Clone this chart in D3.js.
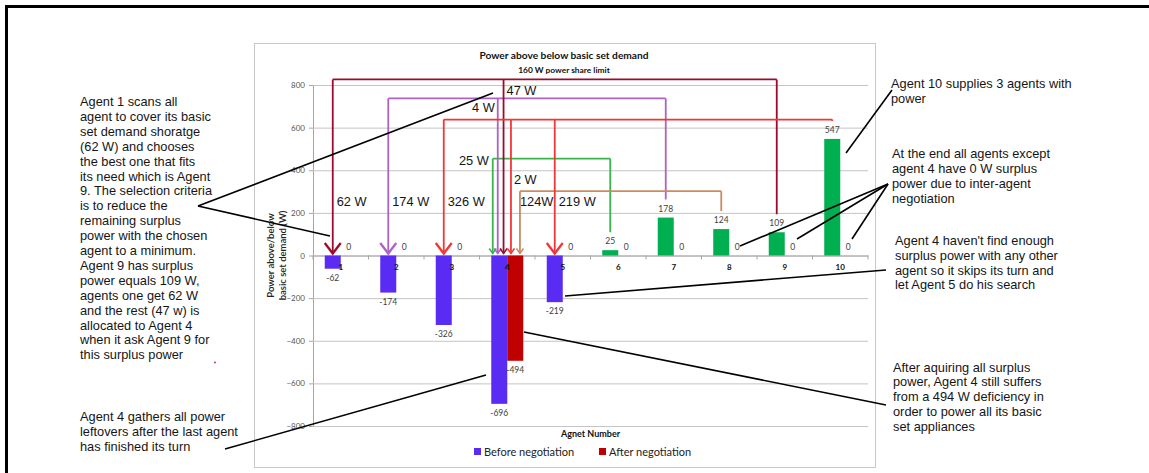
<!DOCTYPE html>
<html>
<head>
<meta charset="utf-8">
<script src="https://cdn.jsdelivr.net/npm/d3@7"></script>
<style>
  body { margin: 0; background: #fff; }
  svg { display: block; }
  .note { font-family: "Liberation Sans", Arial, sans-serif; font-size: 12.8px; fill: #151515; }
  .chart-text { font-family: Lato, "Open Sans", sans-serif; }
</style>
</head>
<body>
<svg id="chart" width="1149" height="473"></svg>
<script>
// chart values
const agents = [1, 2, 3, 4, 5, 6, 7, 8, 9, 10];
const beforeValues = [-62, -174, -326, -696, -219, 25, 178, 124, 109, 547];
const afterValues = [0, 0, 0, -494, 0, 0, 0, 0, 0, 0];
const yTicks = [-800, -600, -400, -200, 0, 200, 400, 600, 800];
const seriesNames = ["Before negotiation", "After negotiation"];

// who gave power to whom
const transferFrom = [9, 7, 10, 10, 6, 7, 9, 10, 8];
const transferTo = [1, 2, 3, 5, 4, 4, 4, 4, 4];
const transferLabels = ["62 W", "174 W", "326 W", "219 W", "25 W", "4 W", "47 W", "2 W", "124W"];

// annotation layout (not data)
const supplierLevel = { 9: 826, 7: 737, 10: 638, 6: 455, 8: 302 };
const supplierColor = { 9: "#9b0c2c", 7: "#b061c6", 10: "#f23636", 6: "#3bb54b", 8: "#c98b62" };
const agent4Offset = { 6: -14.5, 7: -9.5, 9: -3.7, 10: 3.7, 8: 12.7 };

const plot = { left: 313, right: 868, top: 85, bottom: 426 };
const svg = d3.select("#chart");

// outer frame
svg.append("path")
  .attr("d", "M6.5,473 V6.5 H1149")
  .attr("fill", "none")
  .attr("stroke", "#000")
  .attr("stroke-width", 3);

// chart box
svg.append("rect")
  .attr("x", 254.5).attr("y", 43.5)
  .attr("width", 621).attr("height", 424)
  .attr("fill", "#fff")
  .attr("stroke", "#c8c8c8");

const x = d3.scaleBand().domain(agents).range([plot.left, plot.right]);
const x1 = d3.scaleBand().domain(seriesNames)
  .range([x.bandwidth() / 2 - 16, x.bandwidth() / 2 + 16]);
const y = d3.scaleLinear().domain([-800, 800]).range([plot.bottom, plot.top]);

// gridlines + y axis
svg.append("g")
  .attr("transform", `translate(${plot.left},0)`)
  .call(d3.axisLeft(y).tickValues(yTicks).tickSize(-(plot.right - plot.left)).tickPadding(8))
  .call(g => g.select(".domain").attr("stroke", "#a6a6a6"))
  .call(g => g.selectAll(".tick line").attr("stroke", "#c4c4c4"))
  .call(g => g.selectAll(".tick text")
    .attr("class", "chart-text")
    .attr("font-size", 8)
    .attr("fill", "#555"));

// y axis small ticks
svg.append("g").selectAll("line")
  .data(yTicks)
  .join("line")
  .attr("x1", plot.left - 4).attr("x2", plot.left)
  .attr("y1", d => y(d) + 0.5).attr("y2", d => y(d) + 0.5)
  .attr("stroke", "#a6a6a6");

// category axis at zero
svg.append("g")
  .attr("transform", `translate(0,${y(0)})`)
  .call(d3.axisBottom(x).tickSize(0).tickFormat(""))
  .call(g => g.select(".domain").attr("stroke", "#a6a6a6"));
svg.append("g").selectAll("line")
  .data(d3.range(agents.length + 1))
  .join("line")
  .attr("x1", i => plot.left + i * x.bandwidth())
  .attr("x2", i => plot.left + i * x.bandwidth())
  .attr("y1", y(0)).attr("y2", y(0) + 4)
  .attr("stroke", "#a6a6a6");

// bars
const rows = agents.map((a, i) => ({ agent: a, before: beforeValues[i], after: afterValues[i] }));
const barColor = v => v >= 0 ? "#00b050" : "#5a2bf2";

svg.append("g").selectAll("rect")
  .data(rows)
  .join("rect")
  .attr("x", d => x(d.agent) + x1(seriesNames[0]))
  .attr("width", x1.bandwidth())
  .attr("y", d => y(Math.max(0, d.before)))
  .attr("height", d => Math.abs(y(d.before) - y(0)))
  .attr("fill", d => barColor(d.before));

svg.append("g").selectAll("rect")
  .data(rows.filter(d => d.after !== 0))
  .join("rect")
  .attr("x", d => x(d.agent) + x1(seriesNames[1]))
  .attr("width", x1.bandwidth())
  .attr("y", y(0))
  .attr("height", d => y(d.after) - y(0))
  .attr("fill", "#c00000");

// data labels
const labelFor = (g, key, series) => g.selectAll("text")
  .data(rows)
  .join("text")
  .attr("class", "chart-text")
  .attr("font-size", 8.5)
  .attr("fill", "#404040")
  .attr("text-anchor", "middle")
  .attr("x", d => x(d.agent) + x1(series) + x1.bandwidth() / 2)
  .attr("y", d => d[key] >= 0 ? y(d[key]) - 6 : y(d[key]) + 12)
  .text(d => d[key]);
labelFor(svg.append("g"), "before", seriesNames[0]);
labelFor(svg.append("g"), "after", seriesNames[1]);

// category labels
svg.append("g").selectAll("text")
  .data(agents)
  .join("text")
  .attr("class", "chart-text")
  .attr("font-size", 8)
  .attr("font-weight", "bold")
  .attr("fill", "#111")
  .attr("text-anchor", "middle")
  .attr("x", d => x(d) + x.bandwidth() / 2)
  .attr("y", y(0) + 14)
  .text(d => d);

// titles
const center = (plot.left + plot.right) / 2;
svg.append("text").attr("class", "chart-text")
  .attr("x", 564).attr("y", 59)
  .attr("text-anchor", "middle").attr("font-size", 10.2).attr("font-weight", "bold").attr("fill", "#111")
  .text("Power above below basic set demand");
svg.append("text").attr("class", "chart-text")
  .attr("x", 564).attr("y", 72.5)
  .attr("text-anchor", "middle").attr("font-size", 8.4).attr("font-weight", "bold").attr("fill", "#111")
  .text("160 W power share limit");
svg.append("text").attr("class", "chart-text")
  .attr("x", center).attr("y", 436.5)
  .attr("text-anchor", "middle").attr("font-size", 9).attr("font-weight", "bold").attr("fill", "#111")
  .text("Agnet Number");

const yTitle = svg.append("text").attr("class", "chart-text")
  .attr("transform", `translate(0,${y(0)}) rotate(-90)`)
  .attr("text-anchor", "middle").attr("font-size", 9.5).attr("font-weight", 600).attr("fill", "#222");
yTitle.append("tspan").attr("x", 0).attr("y", 274).text("Power above/below");
yTitle.append("tspan").attr("x", 0).attr("y", 286).text("basic set demand (W)");

// legend
const legend = svg.append("g").attr("transform", "translate(474,452)");
seriesNames.forEach((name, i) => {
  const lx = i === 0 ? 0 : 125;
  legend.append("rect").attr("x", lx).attr("y", -4).attr("width", 7).attr("height", 7)
    .attr("fill", i === 0 ? "#5a2bf2" : "#c00000");
  legend.append("text").attr("class", "chart-text")
    .attr("x", lx + 10).attr("y", 4)
    .attr("font-size", 11).attr("fill", "#222")
    .text(name);
});

// transfer brackets
const beforeCenter = a => x(a) + x1(seriesNames[0]) + x1.bandwidth() / 2;
const arriveX = (from, to) => to === 4 ? x(4) + x.bandwidth() / 2 + agent4Offset[from] : beforeCenter(to);
const tipY = y(0) - 2;
const links = svg.append("g").attr("fill", "none").attr("stroke-linejoin", "miter");

Object.keys(supplierLevel).map(Number).forEach(from => {
  const i = agents.indexOf(from);
  const level = y(supplierLevel[from]);
  const sx = beforeCenter(from);
  const startY = y(beforeValues[i]) - 18;
  const targets = transferTo.filter((t, k) => transferFrom[k] === from).map(t => arriveX(from, t));
  const color = supplierColor[from];
  const lo = Math.min(sx, ...targets), hi = Math.max(sx, ...targets);
  links.append("path")
    .attr("d", `M${sx},${startY} V${level} M${lo},${level} H${hi}`)
    .attr("stroke", color).attr("stroke-width", 1.8);
  transferTo.forEach((t, k) => {
    if (transferFrom[k] !== from) return;
    const tx = arriveX(from, t);
    links.append("path")
      .attr("d", `M${tx},${level} V${tipY}`)
      .attr("stroke", color).attr("stroke-width", 1.8);
    const hw = t === 4 ? 3.5 : 8, hh = t === 4 ? 5 : 10.5;
    links.append("path")
      .attr("d", `M${tx - hw},${tipY - hh} L${tx},${tipY} L${tx + hw},${tipY - hh}`)
      .attr("stroke", color).attr("stroke-width", t === 4 ? 1.5 : 2.3);
  });
});

// transfer labels
const wattStyle = sel => sel.attr("class", "note").attr("font-size", 13.5).attr("dominant-baseline", "middle");
transferLabels.forEach((lab, k) => {
  const from = transferFrom[k], to = transferTo[k];
  const tx = arriveX(from, to);
  const level = y(supplierLevel[from]);
  let lx = tx + 4, ly = y(250), anchor = "start";
  if (to === 4 && from === 6) { lx = tx - 4; ly = level + 3; anchor = "end"; }
  if (to === 4 && from === 7) { lx = tx - 3; ly = level + 10; anchor = "end"; }
  if (to === 4 && from === 9) { lx = tx + 3; ly = level + 12; }
  if (to === 4 && from === 10) { lx = tx + 3; ly = level + 61; }
  if (to === 4 && from === 8) { lx = tx; }
  svg.append("text").call(wattStyle)
    .attr("x", lx).attr("y", ly).attr("text-anchor", anchor).text(lab);
});

// callout lines
const callouts = [
  [198, 206, 493, 93], [198, 206, 330, 236],
  [225, 449, 486, 375],
  [892, 90, 846, 153],
  [888, 184, 740, 246], [888, 184, 797, 239], [888, 184, 852, 239],
  [886, 270, 565, 296],
  [886, 405, 524, 332]
];
svg.append("g").selectAll("line")
  .data(callouts)
  .join("line")
  .attr("x1", d => d[0]).attr("y1", d => d[1])
  .attr("x2", d => d[2]).attr("y2", d => d[3])
  .attr("stroke", "#000").attr("stroke-width", 1.6);

// notes
const notes = [
  { x: 80, y: 102.7, step: 14.9, lines: ["Agent 1 scans all", "agent to cover its basic", "set demand shoratge",
    "(62 W) and chooses", "the best one that fits", "its need which is Agent", "9. The selection criteria",
    "is to reduce the", "remaining surplus", "power with the chosen", "agent to a minimum.",
    "Agent 9 has surplus", "power equals 109 W,", "agents one get 62 W", "and the rest (47 w) is",
    "allocated to Agent 4", "when it ask Agent 9 for", "this surplus power"] },
  { x: 80, y: 418, step: 15, lines: ["Agent 4 gathers all power", "leftovers after the last agent", "has finished its turn"] },
  { x: 891, y: 85, step: 15, lines: ["Agent 10 supplies 3 agents with", "power"] },
  { x: 892, y: 155, step: 14.8, lines: ["At the end all agents except", "agent 4 have 0 W surplus", "power due to inter-agent", "negotiation"] },
  { x: 895, y: 241.7, step: 14.8, lines: ["Agent 4 haven't find enough", "surplus power with any other", "agent so it skips its turn and", "let Agent 5 do his search"] },
  { x: 893, y: 368.3, step: 14.8, lines: ["After aquiring all surplus", "power, Agent 4 still suffers", "from a 494 W deficiency in", "order to power all its basic", "set appliances"] }
];
notes.forEach(n => {
  svg.append("g").selectAll("text")
    .data(n.lines)
    .join("text")
    .attr("class", "note")
    .attr("x", n.x)
    .attr("y", (d, i) => n.y + i * n.step)
    .attr("dominant-baseline", "middle")
    .text(d => d);
});

// stray red dot in the original
svg.append("circle").attr("cx", 215).attr("cy", 362.5).attr("r", 0.9).attr("fill", "#d02040");
</script>
</body>
</html>
